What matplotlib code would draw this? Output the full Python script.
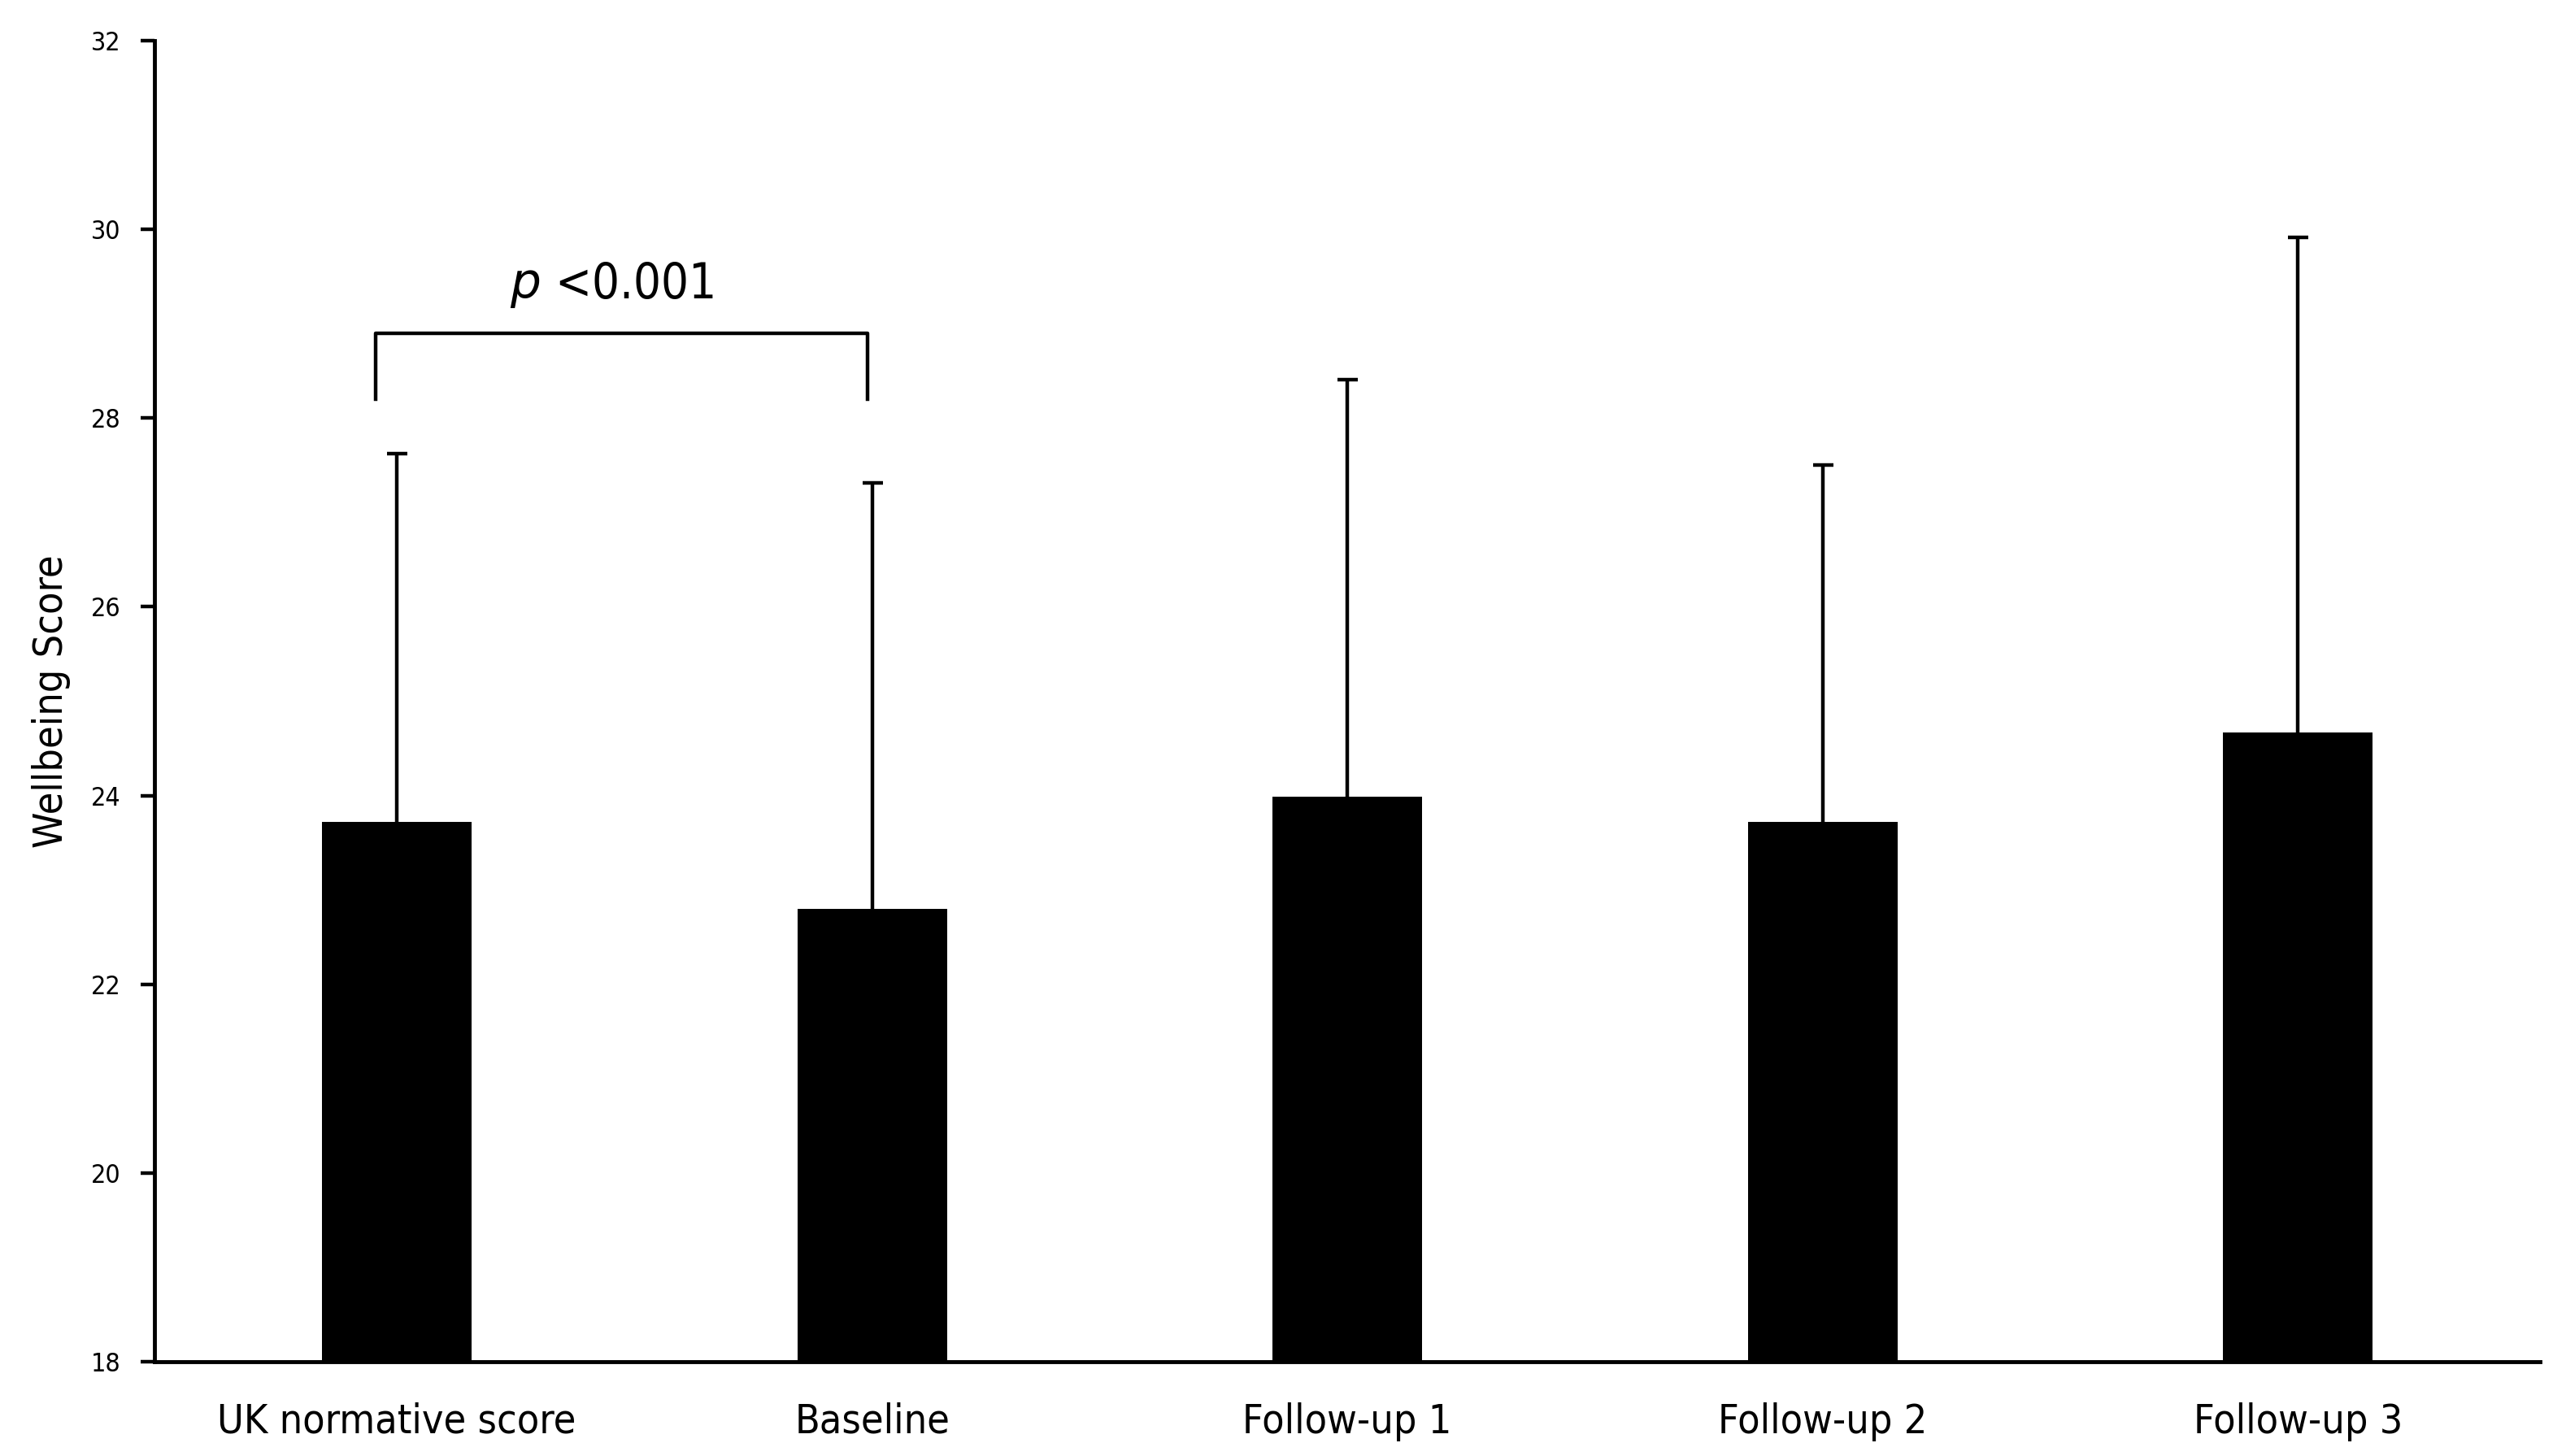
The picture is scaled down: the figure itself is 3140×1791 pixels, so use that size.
import matplotlib
matplotlib.use("Agg")
import matplotlib.pyplot as plt
import numpy as np

# data
categories = ["UK normative score", "Baseline", "Follow-up 1", "Follow-up 2", "Follow-up 3"]
means = [23.72, 22.80, 23.99, 23.72, 24.67]
upper = [27.62, 27.31, 28.41, 27.50, 29.92]
sd = [u - m for u, m in zip(upper, means)]
yticks = [18, 20, 22, 24, 26, 28, 30, 32]

cond = dict(family=["DejaVu Sans"], stretch="condensed")

fig = plt.figure(figsize=(31.4, 17.91), dpi=100)
ax = fig.add_axes([0.0605, 0.0648, 0.9345, 0.9072])

x = np.arange(len(categories))
ax.bar(x, means, width=0.315, color="black", zorder=2)
# upper-only error bars (SD)
eb = ax.errorbar(x, means, yerr=[np.zeros(len(sd)), sd], fmt="none",
                 ecolor="black", elinewidth=3.2, capsize=9, capthick=3.2,
                 zorder=3)
eb[1][0].set_visible(False)

# significance bracket between first two bars
bx0, bx1 = -0.045, 0.99
by, bdrop = 28.90, 28.20
ax.plot([bx0, bx0, bx1, bx1], [bdrop, by, by, bdrop], color="black", lw=3.2,
        clip_on=False)
ax.text((bx0 + bx1) / 2 - 0.02, by + 0.25, r"$\it{p}$" + " <0.001",
        ha="center", va="bottom", fontsize=43, **cond)

ax.set_xlim(-0.51, 4.51)
ax.set_ylim(18, 32)
ax.set_yticks(yticks)
ax.set_yticklabels([str(t) for t in yticks], fontsize=23, **cond)
ax.set_xticks(x)
ax.set_xticklabels(categories, fontsize=36, **cond)
ax.tick_params(axis="x", length=0, pad=36)
ax.tick_params(axis="y", length=12, width=3.2, pad=18)
ax.set_ylabel("Wellbeing Score", fontsize=36, labelpad=18, **cond)

for s in ["top", "right"]:
    ax.spines[s].set_visible(False)
for s in ["left", "bottom"]:
    ax.spines[s].set_linewidth(3.5)

fig.savefig("out.png", dpi=100, facecolor="white")
